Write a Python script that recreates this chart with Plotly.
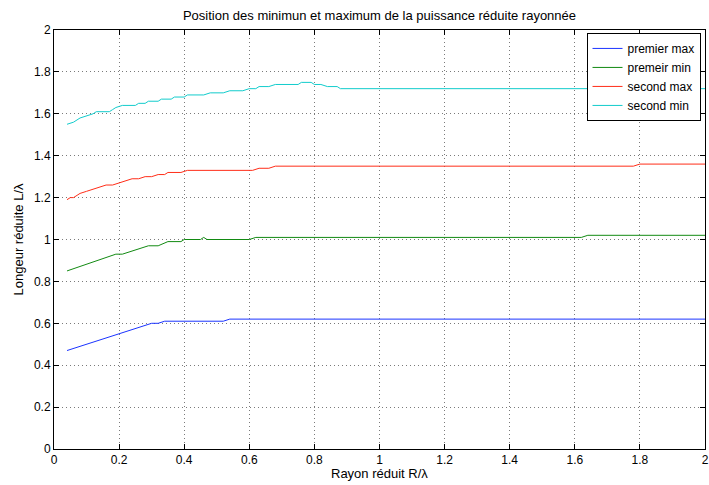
import plotly.graph_objects as go

# ---- data ----
premier_max_x = [0.04, 0.30, 0.32, 0.34, 0.52, 0.54, 2.00]
premier_max_y = [0.47, 0.60, 0.60, 0.61, 0.61, 0.62, 0.62]

premier_min_x = [0.04, 0.19, 0.21, 0.29, 0.32, 0.35, 0.39, 0.40, 0.45, 0.46, 0.47, 0.60, 0.62, 1.62, 1.64, 2.00]
premier_min_y = [0.85, 0.93, 0.93, 0.97, 0.97, 0.99, 0.99, 1.00, 1.00, 1.01, 1.00, 1.00, 1.01, 1.01, 1.02, 1.02]

second_max_x = [0.04, 0.05, 0.06, 0.08, 0.10, 0.12, 0.14, 0.16, 0.18, 0.20, 0.22, 0.24, 0.26, 0.28, 0.30,
                0.32, 0.34, 0.35, 0.39, 0.41, 0.61, 0.63, 0.66, 0.68, 1.78, 1.80, 2.00]
second_max_y = [1.19, 1.20, 1.20, 1.22, 1.23, 1.24, 1.25, 1.26, 1.26, 1.27, 1.28, 1.29, 1.29, 1.30, 1.30,
                1.31, 1.31, 1.32, 1.32, 1.33, 1.33, 1.34, 1.34, 1.35, 1.35, 1.36, 1.36]

second_min_x = [0.04, 0.06, 0.08, 0.10, 0.12, 0.13, 0.17, 0.18, 0.19, 0.21, 0.25, 0.26, 0.28, 0.29, 0.32,
                0.33, 0.36, 0.37, 0.40, 0.41, 0.46, 0.48, 0.52, 0.54, 0.58, 0.60, 0.62, 0.63, 0.66, 0.68,
                0.75, 0.76, 0.79, 0.80, 0.82, 0.84, 0.87, 0.88, 2.00]
second_min_y = [1.55, 1.56, 1.58, 1.59, 1.60, 1.61, 1.61, 1.62, 1.63, 1.64, 1.64, 1.65, 1.65, 1.66, 1.66,
                1.67, 1.67, 1.68, 1.68, 1.69, 1.69, 1.70, 1.70, 1.71, 1.71, 1.72, 1.72, 1.73, 1.73, 1.74,
                1.74, 1.75, 1.75, 1.74, 1.74, 1.73, 1.73, 1.72, 1.72]

series_names = ["premier max", "premeir min", "second max", "second min"]
series_colors = ["#1a33ff", "#128a12", "#ff2d18", "#12cccc"]

tick_vals_x = [0, 0.2, 0.4, 0.6, 0.8, 1, 1.2, 1.4, 1.6, 1.8, 2]
tick_vals_y = [0, 0.2, 0.4, 0.6, 0.8, 1, 1.2, 1.4, 1.6, 1.8, 2]

title_text = "Position des minimun et maximum de la puissance réduite rayonnée"
x_title = "Rayon réduit R/λ"
y_title = "Longeur réduite L/λ"

FONT = "Liberation Sans, Arial, Helvetica, sans-serif"

fig = go.Figure()
for name, color, xs, ys in zip(
    series_names, series_colors,
    [premier_max_x, premier_min_x, second_max_x, second_min_x],
    [premier_max_y, premier_min_y, second_max_y, second_min_y],
):
    fig.add_trace(go.Scatter(x=xs, y=ys, mode="lines", name=name,
                             line=dict(color=color, width=1)))

axis_common = dict(
    showline=True, linecolor="black", linewidth=1, mirror="ticks",
    ticks="inside", ticklen=5, tickcolor="black", tickwidth=1,
    showgrid=True, gridcolor="#7a7a7a", griddash="1px,3px", gridwidth=1,
    zeroline=False, tickfont=dict(family=FONT, size=12, color="black"),
    ticklabeloverflow="allow",
)

fig.update_layout(
    width=709, height=485,
    margin=dict(l=54, r=0, t=30, b=36),
    paper_bgcolor="white", plot_bgcolor="white",
    font=dict(family=FONT, size=12, color="black"),
    title=dict(text=title_text,
               x=0.5, xref="paper", xanchor="center", y=0.969, yref="container",
               yanchor="middle", font=dict(family=FONT, size=13, color="black")),
    xaxis=dict(range=[0, 2], tickvals=tick_vals_x, **axis_common),
    yaxis=dict(range=[0, 2], tickvals=tick_vals_y, **axis_common),
    legend=dict(x=0.818, y=0.993, xanchor="left", yanchor="top",
                bgcolor="white", bordercolor="black", borderwidth=1,
                font=dict(family=FONT, size=12, color="black"),
                tracegroupgap=0, itemwidth=30),
    showlegend=True,
    annotations=[
        dict(text=x_title, xref="paper", yref="paper", x=0.5, y=0,
             xanchor="center", yanchor="middle", yshift=-24, showarrow=False,
             borderpad=0, font=dict(family=FONT, size=13, color="black")),
        dict(text=y_title, xref="paper", yref="paper", x=0, y=0.5,
             xanchor="center", yanchor="middle", xshift=-36, textangle=-90,
             showarrow=False, font=dict(family=FONT, size=13, color="black")),
    ],
)

# remove the default 8px page margin so the 709x485 figure fills the window exactly
fig.write_html("out.html", config={"displayModeBar": False},
               post_script="document.body.style.margin='0px';")
